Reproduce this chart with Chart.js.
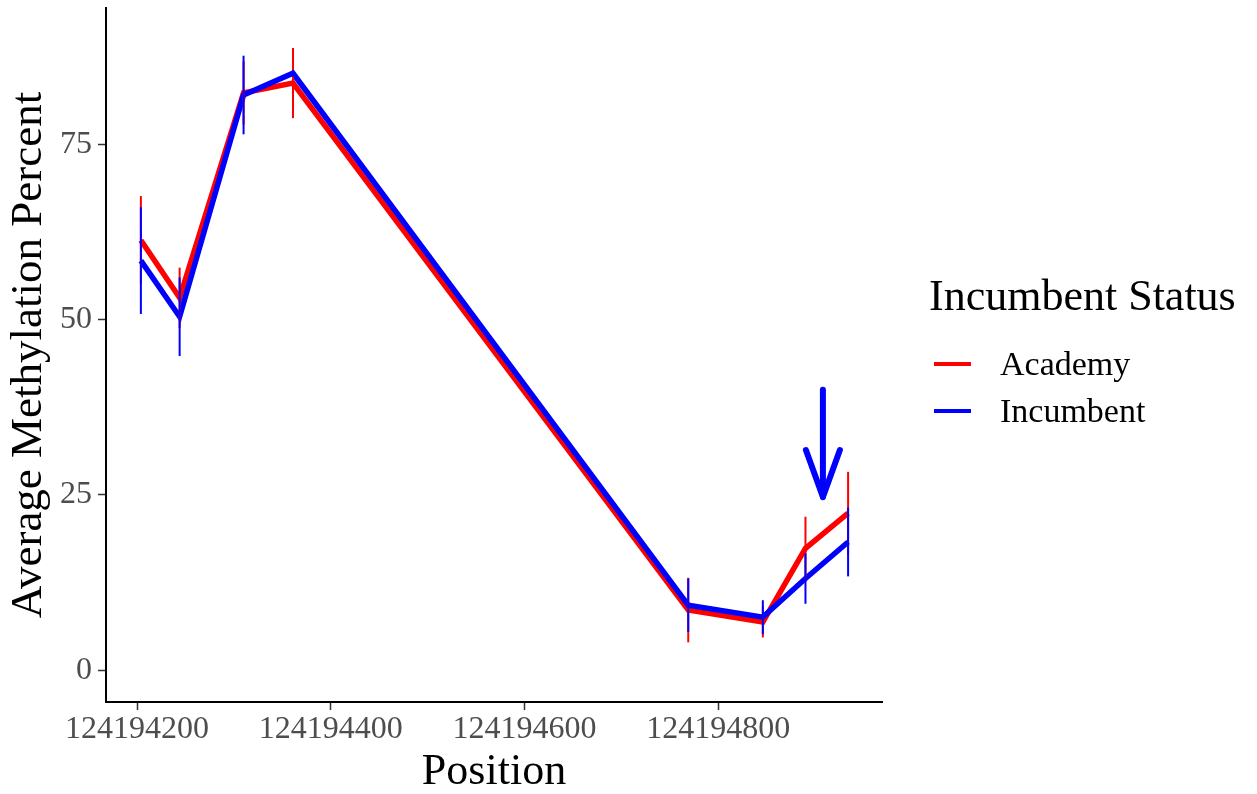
<!DOCTYPE html>
<html>
<head>
<meta charset="utf-8">
<script src="https://cdn.jsdelivr.net/npm/chart.js@4/dist/chart.umd.min.js"></script>
<style>
  html, body { margin: 0; padding: 0; background: #fff; }
  #wrap { width: 1257px; height: 794px; }
</style>
</head>
<body>
<div id="wrap"><canvas id="metChart"></canvas></div>
<script>
// Dati
var positions = [124194204, 124194244, 124194310, 124194361, 124194769, 124194846, 124194890, 124194934];
var academyMean = [61.3, 53.1, 82.3, 83.7, 8.6, 6.9, 17.4, 22.4];
var academyErr = [6.3, 4.3, 4.5, 5.0, 4.6, 2.2, 4.5, 5.9];
var incumbentMean = [58.4, 50.4, 82.0, 85.1, 9.3, 7.6, 13.1, 18.3];
var incumbentErr = [7.6, 5.6, 5.6, 0.5, 3.8, 2.4, 3.6, 4.9];
var xTicks = [124194200, 124194400, 124194600, 124194800];
var yTicks = [0, 25, 50, 75];
var seriesNames = ['Academy', 'Incumbent'];
var seriesColors = ['#ff0000', '#0000ff'];
// freccia (coordinate nei valori dei dati)
var arrowX = 124194908;
var arrowTop = 40;
var arrowTip = 24.7;

var serif = "'Liberation Serif', 'Times New Roman', serif";

function toPoints(xs, ys) {
  return xs.map(function (x, i) { return { x: x, y: ys[i] }; });
}

// Barre di errore
var errorBarsPlugin = {
  id: 'errorBars',
  afterDatasetsDraw: function (chart) {
    var ctx = chart.ctx;
    var xs = chart.scales.x, ys = chart.scales.y;
    var groups = [[academyMean, academyErr, seriesColors[0]], [incumbentMean, incumbentErr, seriesColors[1]]];
    ctx.save();
    ctx.lineWidth = 2;
    groups.forEach(function (g) {
      ctx.strokeStyle = g[2];
      positions.forEach(function (p, i) {
        var px = xs.getPixelForValue(p);
        ctx.beginPath();
        ctx.moveTo(px, ys.getPixelForValue(g[0][i] + g[1][i]));
        ctx.lineTo(px, ys.getPixelForValue(g[0][i] - g[1][i]));
        ctx.stroke();
      });
    });
    // freccia blu
    var ax = xs.getPixelForValue(arrowX);
    var top = ys.getPixelForValue(arrowTop);
    var tip = ys.getPixelForValue(arrowTip);
    ctx.strokeStyle = seriesColors[1];
    ctx.lineWidth = 6;
    ctx.lineCap = 'round';
    ctx.lineJoin = 'round';
    ctx.beginPath();
    ctx.moveTo(ax, top);
    ctx.lineTo(ax, tip);
    ctx.stroke();
    ctx.beginPath();
    ctx.moveTo(ax - 17, tip - 47);
    ctx.lineTo(ax, tip);
    ctx.lineTo(ax + 17, tip - 47);
    ctx.stroke();
    ctx.restore();
  }
};

// Legenda personalizzata a destra
var legendPlugin = {
  id: 'customLegend',
  afterDraw: function (chart) {
    var ctx = chart.ctx;
    ctx.save();
    ctx.fillStyle = '#000';
    ctx.textBaseline = 'middle';
    ctx.font = '44px ' + serif;
    ctx.fillText('Incumbent Status', 929, 298);
    ctx.font = '34px ' + serif;
    seriesNames.forEach(function (name, i) {
      var y = 364 + i * 47;
      ctx.strokeStyle = seriesColors[i];
      ctx.lineWidth = 4;
      ctx.beginPath();
      ctx.moveTo(934, y);
      ctx.lineTo(971, y);
      ctx.stroke();
      ctx.fillStyle = '#000';
      ctx.fillText(name, 1000, y + 2);
    });
    ctx.restore();
  }
};

function noEdgePadding(axis) {
  axis.paddingTop = 0;
  axis.paddingBottom = 0;
}

var ctx = document.getElementById('metChart').getContext('2d');
var chart = new Chart(ctx, {
  type: 'line',
  data: {
    datasets: [{
      label: seriesNames[0],
      data: toPoints(positions, academyMean),
      borderColor: seriesColors[0],
      borderWidth: 5.5,
      pointRadius: 0,
      order: 2
    }, {
      label: seriesNames[1],
      data: toPoints(positions, incumbentMean),
      borderColor: seriesColors[1],
      borderWidth: 5.5,
      pointRadius: 0,
      order: 1
    }]
  },
  options: {
    responsive: true,
    maintainAspectRatio: false,
    animation: false,
    layout: { padding: { left: 0, right: 375, top: 8, bottom: 0 } },
    plugins: {
      legend: { display: false },
      tooltip: { enabled: false }
    },
    scales: {
      x: {
        type: 'linear',
        min: 124194168,
        max: 124194969,
        afterBuildTicks: function (axis) {
          axis.ticks = xTicks.map(function (v) { return { value: v }; });
        },
        grid: { display: true, drawOnChartArea: false, drawTicks: true, tickLength: 8, tickColor: '#333', tickWidth: 1.5 },
        border: { display: true, color: '#000', width: 2 },
        ticks: {
          color: '#4d4d4d',
          padding: 4,
          maxRotation: 0,
          font: { family: serif, size: 32, lineHeight: 1 },
          callback: function (v) { return String(v); }
        },
        title: {
          display: true,
          text: 'Position',
          color: '#000',
          font: { family: serif, size: 44, lineHeight: 1 },
          padding: { top: 0, bottom: 0 }
        }
      },
      y: {
        min: -4.5,
        max: 94.4,
        afterBuildTicks: function (axis) {
          axis.ticks = yTicks.map(function (v) { return { value: v }; });
        },
        afterFit: noEdgePadding,
        grid: { display: true, drawOnChartArea: false, drawTicks: true, tickLength: 8, tickColor: '#333', tickWidth: 1.5 },
        border: { display: true, color: '#000', width: 2 },
        ticks: {
          color: '#4d4d4d',
          padding: 6,
          font: { family: serif, size: 32, lineHeight: 1 }
        },
        title: {
          display: true,
          text: 'Average Methylation Percent',
          color: '#000',
          font: { family: serif, size: 45, lineHeight: 1 },
          padding: { top: 7, bottom: 2 }
        }
      }
    }
  },
  plugins: [errorBarsPlugin, legendPlugin]
});
</script>
</body>
</html>
